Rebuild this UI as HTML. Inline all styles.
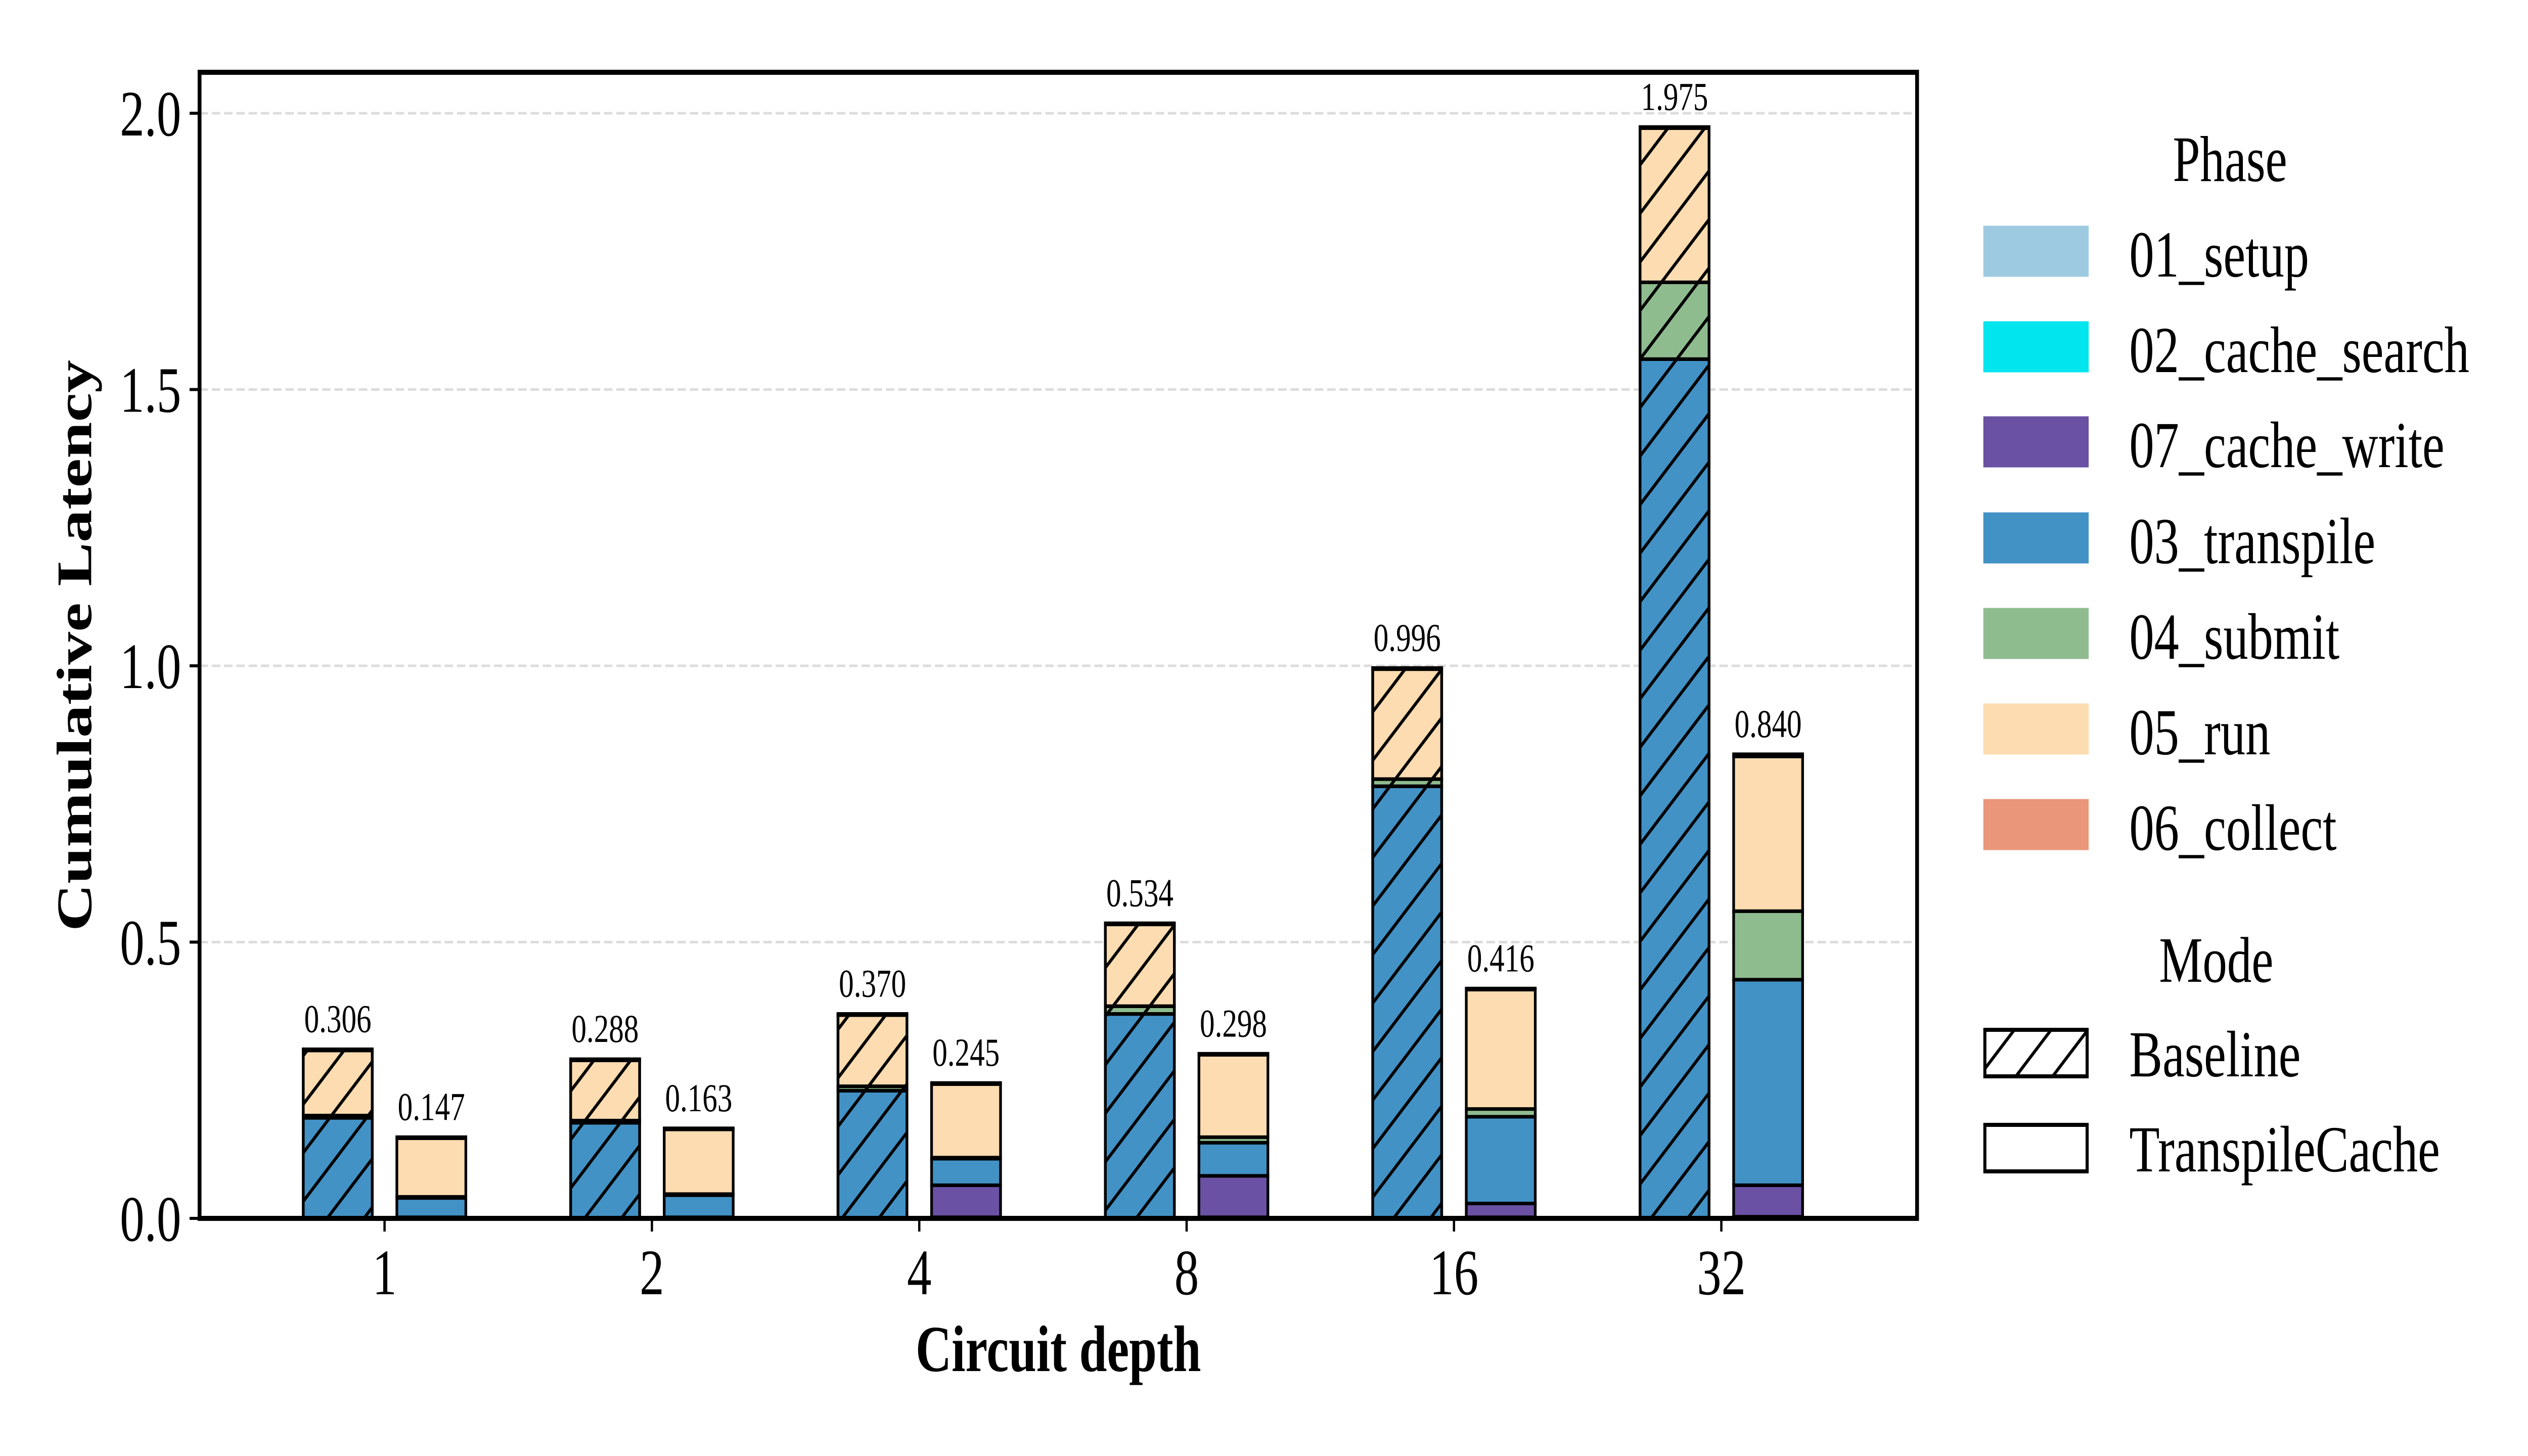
<!DOCTYPE html>
<html><head><meta charset="utf-8"><style>
html,body{margin:0;padding:0;background:#fff;width:100%;height:100%;overflow:hidden}
svg{display:block;font-family:"Liberation Serif",serif;width:100vw;height:100vh}
</style></head><body>
<svg id="chart" viewBox="0 0 6600 2880" preserveAspectRatio="none" xmlns="http://www.w3.org/2000/svg">
<defs>
<pattern id="hatch" patternUnits="userSpaceOnUse" width="96" height="96">
<path d="M-24,24 L24,-24 M0,96 L96,0 M72,120 L120,72" stroke="#000" stroke-width="7"/>
</pattern>
</defs>
<rect width="6600" height="2880" fill="#fff"/>
<g id="grid"></g>
<g id="bars"></g>
<g id="axes"></g>
<g id="legend"></g>
</svg>
<script>
const categories = ["1","2","4","8","16","32"];
const phases = ["01_setup","02_cache_search","07_cache_write","03_transpile","04_submit","05_run","06_collect"];
const phaseColors = ["#9ecae1","#00e5ee","#6a51a3","#4292c6","#8fbc8f","#fcdcb0","#e9967a"];
const yTicks = [0,0.5,1.0,1.5,2.0];
const yTickLabels = ["0.0","0.5","1.0","1.5","2.0"];
// Baseline per phase
const baseSetup = [0.001,0.001,0.001,0.001,0.001,0.001];
const baseSearch = [0,0,0,0,0,0];
const baseWrite = [0,0,0,0,0,0];
const baseTranspile = [0.181,0.172,0.230,0.369,0.781,1.554];
const baseSubmit = [0.004,0.004,0.008,0.014,0.013,0.139];
const baseRun = [0.118,0.109,0.129,0.148,0.199,0.279];
const baseCollect = [0.002,0.002,0.002,0.002,0.002,0.002];
const baseTotals = ["0.306","0.288","0.370","0.534","0.996","1.975"];
// TranspileCache
const tcSetup = [0.001,0.001,0.001,0.001,0.001,0.002];
const tcSearch = [0.001,0.001,0.001,0.001,0.001,0.001];
const tcWrite = [0.000,0.000,0.058,0.075,0.025,0.057];
const tcTranspile = [0.035,0.040,0.048,0.060,0.157,0.372];
const tcSubmit = [0.002,0.002,0.002,0.010,0.014,0.124];
const tcRun = [0.106,0.117,0.133,0.149,0.216,0.280];
const tcCollect = [0.002,0.002,0.002,0.002,0.002,0.004];
const tcTotals = ["0.147","0.163","0.245","0.298","0.416","0.840"];

const NS="http://www.w3.org/2000/svg";
const X0=521,X1=5005,Y0=2410,Ytop=143;
const tick0=1004, step=698, unit=1093;
const xPos=i=>tick0+i*step;
const yPos=v=>Y0-v*unit;
function mk(tag,attrs,parent){const e=document.createElementNS(NS,tag);for(const k in attrs)e.setAttribute(k,attrs[k]);parent.appendChild(e);return e;}
const grid=document.getElementById('grid'),bars=document.getElementById('bars'),axes=document.getElementById('axes'),legend=document.getElementById('legend');

yTicks.forEach((v,i)=>{
  if(v>0){const g=mk('line',{x1:X0,x2:X1,y1:yPos(v),y2:yPos(v),stroke:'#dcdcdc','stroke-width':5,'stroke-dasharray':'22,10'},grid);
  
  }
  const t=mk('line',{x1:X0-26,x2:X0,y1:yPos(v),y2:yPos(v),stroke:'#000','stroke-width':6},axes);
  
  
  const l=mk('text',{x:X0-48,y:yPos(v)+44,'text-anchor':'end','font-size':128},axes);
  l.textContent=yTickLabels[i];
  
  
});

const baseSeries=[baseSetup,baseSearch,baseWrite,baseTranspile,baseSubmit,baseRun,baseCollect];
const tcSeries=[tcSetup,tcSearch,tcWrite,tcTranspile,tcSubmit,tcRun,tcCollect];
const bw=0.258*step, off=0.175*step;
function drawStack(series,i,cx,hatched,total){
  let acc=0;
  const left=cx-bw/2;
  series.forEach((s,p)=>{
    const v=s[i]; if(v<=0) return;
    const y1=yPos(acc+v), y2=yPos(acc);
    const r=mk('rect',{x:left,y:y1,width:bw,height:y2-y1,fill:phaseColors[p],stroke:'#000','stroke-width':7},bars);
    
    
    if(hatched){const h=mk('rect',{x:left,y:y1,width:bw,height:y2-y1,fill:'url(#hatch)',stroke:'#000','stroke-width':7},bars);
      
      }
    acc+=v;
  });
  const t=mk('text',{x:cx,y:yPos(acc)-34,'text-anchor':'middle','font-size':78},bars);
  t.textContent=total;
  
  
}
categories.forEach((c,i)=>{
  drawStack(baseSeries,i,xPos(i)-off,true,baseTotals[i]);
  drawStack(tcSeries,i,xPos(i)+off,false,tcTotals[i]);
  const t=mk('line',{x1:xPos(i),x2:xPos(i),y1:Y0,y2:Y0+26,stroke:'#000','stroke-width':6},axes);
  
  
  const l=mk('text',{x:xPos(i),y:2560,'text-anchor':'middle','font-size':128},axes);
  l.textContent=c;
  
  
});
const frame=mk('rect',{x:X0,y:Ytop,width:X1-X0,height:Y0-Ytop,fill:'none',stroke:'#000','stroke-width':10},axes);


const xl=mk('text',{x:(X0+X1)/2,y:2712,'text-anchor':'middle','font-size':130,'font-weight':'bold'},axes);
xl.textContent='Circuit depth';


const yl=mk('text',{x:0,y:0,'text-anchor':'middle','font-size':130,'font-weight':'bold',transform:'translate(238,1277) rotate(-90)'},axes);
yl.textContent='Cumulative Latency';



// legend
const LX=5178,PW=275,PH=101,TX=5559;
const lt=mk('text',{x:5822,y:358,'text-anchor':'middle','font-size':128},legend);
lt.textContent='Phase';


const rowY=[497,686,874,1064,1253,1442,1631];
phases.forEach((p,k)=>{
  const r=mk('rect',{x:LX,y:rowY[k]-PH/2,width:PW,height:PH,fill:phaseColors[k]},legend);
  
  
  const t=mk('text',{x:TX,y:rowY[k]+50,'font-size':130},legend);
  t.textContent=p;
  
  
});
const mt=mk('text',{x:5786,y:1942,'text-anchor':'middle','font-size':128},legend);
mt.textContent='Mode';


const modes=['Baseline','TranspileCache'], modeY=[2083,2271];
modes.forEach((m,k)=>{
  const r=mk('rect',{x:LX+4,y:modeY[k]-46,width:PW-8,height:92,fill:k==0?'url(#hatch)':'#fff',stroke:'#000','stroke-width':8},legend);
  
  
  const t=mk('text',{x:TX,y:modeY[k]+46,'font-size':130},legend);
  t.textContent=m;
  
  
});
</script>
</body></html>
